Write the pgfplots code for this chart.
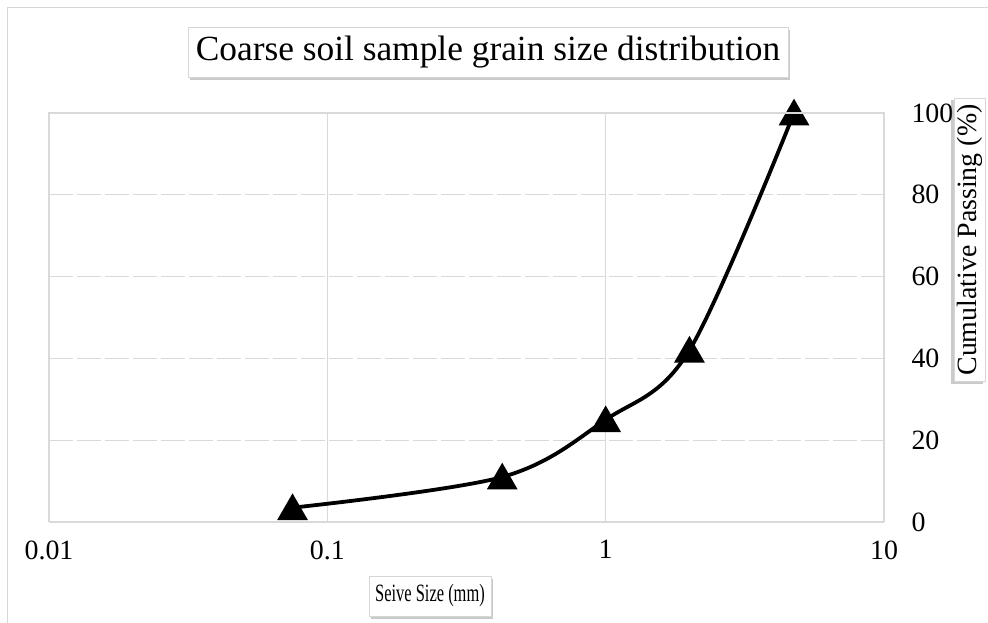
\documentclass[border=0pt]{standalone}
\usepackage{fontspec}
\setmainfont{Liberation Serif}
\newfontfamily\narrowserif[FakeStretch=0.66]{Liberation Serif}
\usepackage{pgfplots}
\pgfplotsset{compat=1.18}
\usetikzlibrary{shadows}
\definecolor{gridgray}{RGB}{217,217,217}
\definecolor{framegray}{RGB}{214,214,214}

\begin{document}
\begin{tikzpicture}[x=1bp,y=1bp]
\useasboundingbox (0,0) rectangle (988,623);
\begin{scope}
\clip (0,0) rectangle (988,623);
% chart area frame
\draw[framegray, line width=1.5bp] (7.5,-10) rectangle (1000,615.5);
\begin{axis}[
  at={(49bp,101bp)}, anchor=south west,
  scale only axis, width=835bp, height=409bp,
  xmode=log, log basis x=10,
  xmin=0.01, xmax=10, ymin=0, ymax=100,
  xtick={0.01,0.1,1,10},
  xticklabels={0.01,0.1,1,10},
  ytick={0,20,40,60,80,100},
  axis y line*=right,
  axis x line*=bottom,
  ytick pos=right, yticklabel pos=right,
  major tick length=0pt,
  /pgf/number format/assume math mode=true,
  ticklabel style={font=\fontsize{28}{30}\selectfont, text=black},
  xticklabel style={yshift=-15bp},
  yticklabel style={anchor=west, xshift=24bp},
  axis line style={gridgray, line width=1.2bp},
  xmajorgrids, ymajorgrids,
  x grid style={gridgray, line width=1.2bp},
  y grid style={gridgray, line width=1.2bp, dash pattern=on 24bp off 4bp},
  clip=false,
]
\addplot[black, line width=3.8bp, smooth, tension=0.55,
  mark=triangle*, mark size=14bp,
  mark options={solid, fill=black, yshift=-3.5bp}]
  coordinates {(0.075,3.5) (0.425,11) (1,25) (2,42) (4.75,100)};
\end{axis}
% plot-area border
\draw[gridgray, line width=1.2bp] (49,101) -- (49,510) -- (884,510) -- (884,101);
% chart title
\node[fill=white, draw=framegray, line width=0.4bp, inner xsep=8bp, inner ysep=9bp,
  drop shadow={shadow xshift=2bp, shadow yshift=-3bp, opacity=0.35, fill=black!60},
  font=\fontsize{35.5}{40}\selectfont] at (488,571) {Coarse soil sample grain size distribution};
% horizontal axis title
\node[fill=white, draw=framegray, line width=0.4bp, inner xsep=6bp, inner ysep=9bp,
  drop shadow={shadow xshift=2bp, shadow yshift=-3bp, opacity=0.35, fill=black!60},
  font=\narrowserif\fontsize{25}{28}\selectfont] at (430,27) {Seive Size (mm)};
% vertical axis title
\node[rotate=90, fill=white, draw=framegray, line width=0.4bp, inner xsep=6bp, inner ysep=3bp,
  drop shadow={shadow xshift=-3bp, shadow yshift=-2bp, opacity=0.35, fill=black!60},
  font=\fontsize{28}{30}\selectfont] at (970,383) {Cumulative Passing (\%)};
\end{scope}
\end{tikzpicture}
\end{document}
